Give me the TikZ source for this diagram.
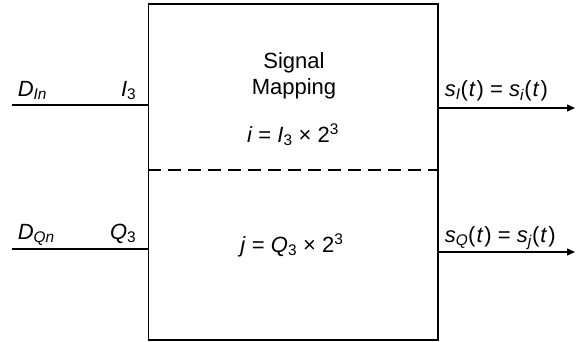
\documentclass[tikz,border=0pt]{standalone}
\usepackage{fontspec}
\setmainfont{Liberation Sans}
\usepackage{tikz}
\usetikzlibrary{positioning,arrows.meta}

\newcommand{\vit}[1]{\textit{#1}}
\newcommand{\targ}{(\kern1pt\vit{t}\kern1pt)}

\begin{document}
\begin{tikzpicture}[x=1pt, y=-1pt,
      line width=1.5pt,
      mapper/.style={draw, line width=1.8pt, minimum width=289.5pt, minimum height=336pt,
                     inner sep=0pt},
      lbl/.style={inner sep=0pt, font=\fontsize{22}{26}\selectfont},
      txt/.style={inner sep=0pt, align=center, font=\fontsize{22}{26}\selectfont},
      sep/.style={line width=2pt, dash pattern=on 13pt off 7pt},
      >={Triangle[length=8pt, width=7pt]}]
    \useasboundingbox (0,0) rectangle (576,341);
    \node[mapper] (map) at (293.25,172) {};
    % free ends of the lines
    \coordinate (inI) at (12,105);
    \coordinate (inQ) at (12,249);
    \coordinate (outI) at (575,108);
    \coordinate (outQ) at (575,252);
    \coordinate (mid) at (293,169.5);
    % labels
    \node[lbl, anchor=base west] (dI) at (17,96) {\vit{D}\textsubscript{\vit{In}}};
    \node[lbl, anchor=base east] (i3) at (137,96) {\vit{I}\textsubscript{3}};
    \node[lbl, anchor=base west] (dQ) at (17,239) {\vit{D}\textsubscript{\vit{Qn}}};
    \node[lbl, anchor=base east] (q3) at (137,239) {\vit{Q}\textsubscript{3}};
    \node[lbl, anchor=base west] (sI) at (444,96) {\vit{s}\textsubscript{\vit{I}}\targ{} = \vit{s}\textsubscript{\vit{i}}\targ};
    \node[lbl, anchor=base west] (sQ) at (444,242) {\vit{s}\textsubscript{\vit{Q}}\targ{} = \vit{s}\textsubscript{\vit{j}}\targ};
    \node[txt, anchor=base] (title) at (294,94) {Signal\\Mapping};
    \node[lbl, anchor=base] (ieq) at (293,142) {\vit{i} = \vit{I}\textsubscript{3} × 2\textsuperscript{3}};
    \node[lbl, anchor=base] (jeq) at (292,252) {\vit{j} = \vit{Q}\textsubscript{3} × 2\textsuperscript{3}};
    % lines
    \draw (inI) -- (map.west |- inI);
    \draw (inQ) -- (map.west |- inQ);
    \draw[->] (map.east |- outI) -- (outI);
    \draw[->] (map.east |- outQ) -- (outQ);
    \draw[sep] (map.west |- mid) -- (map.east |- mid);
\end{tikzpicture}
\end{document}
